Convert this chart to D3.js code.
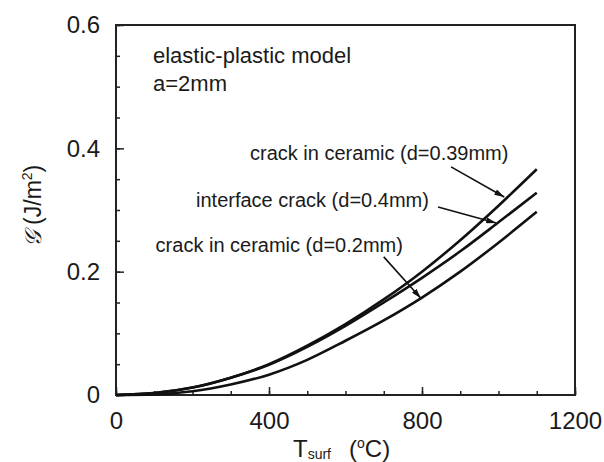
<!DOCTYPE html>
<html>
<head>
<meta charset="utf-8">
<script src="https://cdn.jsdelivr.net/npm/d3@7"></script>
<style>
  body { margin: 0; background: #fff; }
  text { font-family: "Liberation Sans", Arial, sans-serif; fill: #1a1a1a; }
</style>
</head>
<body>
<svg id="chart"></svg>
<script>
let w = 604;
let h = 462;

// surface temperature (C)
let temps = [0, 100, 200, 300, 400, 500, 600, 700, 800, 900, 1000, 1100];
// energy release rate G (J/m2) for each crack
let gCeramic039 = [0, 0.003, 0.012, 0.028, 0.050, 0.080, 0.115, 0.155, 0.200, 0.251, 0.307, 0.366];
let gInterface04 = [0, 0.003, 0.012, 0.028, 0.049, 0.078, 0.112, 0.150, 0.190, 0.233, 0.280, 0.328];
let gCeramic02 = [0, 0.001, 0.006, 0.017, 0.033, 0.057, 0.088, 0.121, 0.158, 0.200, 0.247, 0.297];

let xTicks = [0, 400, 800, 1200];
let yTicks = [0, 0.2, 0.4, 0.6];

let series = [gCeramic039, gInterface04, gCeramic02];

// labels with arrows, given in data units [T, G]
let notes = [
  { text: "crack in ceramic (d=0.39mm)", at: [1026, 0.381], from: [876, 0.370], to: [1015, 0.321] },
  { text: "interface crack (d=0.4mm)", at: [818, 0.305], from: [842, 0.305], to: [994, 0.279] },
  { text: "crack in ceramic (d=0.2mm)", at: [750, 0.232], from: [700, 0.224], to: [797, 0.157] }
];

let svg = d3.select("#chart").attr("width", w).attr("height", h);

let margin = { left: 116, top: 25 },
  width = 459,
  height = 370;

let xScale = d3.scaleLinear().domain([0, 1200]).range([0, width]),
  yScale = d3.scaleLinear().domain([0, 0.6]).range([height, 0]);

let defs = svg.append("defs");
defs.append("marker")
  .attr("id", "arrow")
  .attr("viewBox", "0 0 10 6")
  .attr("refX", 10)
  .attr("refY", 3)
  .attr("markerWidth", 10)
  .attr("markerHeight", 6)
  .attr("markerUnits", "userSpaceOnUse")
  .attr("orient", "auto")
  .append("path")
  .attr("d", "M0,0 L10,3 L0,6 Z")
  .attr("fill", "#111");

let g = svg.append("g").attr("transform", "translate(" + margin.left + "," + margin.top + ")");

// minor ticks
g.append("g")
  .attr("class", "minor")
  .attr("transform", "translate(0," + height + ")")
  .call(d3.axisBottom(xScale).tickValues(d3.range(0, 1201, 100)).tickSize(-4).tickFormat(""));
g.append("g")
  .attr("class", "minor")
  .call(d3.axisLeft(yScale).tickValues(d3.range(0, 0.601, 0.05)).tickSize(-4).tickFormat(""));

// major ticks + labels
g.append("g")
  .attr("class", "xaxis")
  .attr("transform", "translate(0," + height + ")")
  .call(d3.axisBottom(xScale).tickValues(xTicks).tickSize(-8).tickPadding(17).tickFormat(d3.format("d")));
g.append("g")
  .attr("class", "yaxis")
  .call(d3.axisLeft(yScale).tickValues(yTicks).tickSize(-8).tickPadding(16).tickFormat(function (d) {
    return d === 0 ? "0" : d3.format(".1f")(d);
  }));

svg.selectAll(".xaxis text, .yaxis text")
  .style("font-size", "24px")
  .style("font-family", "'Liberation Sans', Arial, sans-serif")
  .attr("fill", "#1a1a1a");
svg.selectAll(".domain").remove();
svg.selectAll(".tick line").attr("stroke", "#222").attr("stroke-width", 1.5);

// frame
g.append("rect")
  .attr("width", width)
  .attr("height", height)
  .attr("fill", "none")
  .attr("stroke", "#222")
  .attr("stroke-width", 2);

// curves
let line = d3.line()
  .x(function (d, i) { return xScale(temps[i]); })
  .y(function (d) { return yScale(d); })
  .curve(d3.curveMonotoneX);

g.selectAll(".curve")
  .data(series)
  .enter()
  .append("path")
  .attr("class", "curve")
  .attr("d", line)
  .attr("fill", "none")
  .attr("stroke", "#111")
  .attr("stroke-width", 2.6);

// annotations
g.selectAll(".note")
  .data(notes)
  .enter()
  .append("text")
  .attr("class", "note")
  .attr("x", function (d) { return xScale(d.at[0]); })
  .attr("y", function (d) { return yScale(d.at[1]); })
  .attr("text-anchor", "end")
  .style("font-size", "20px")
  .text(function (d) { return d.text; });

g.selectAll(".arrow")
  .data(notes)
  .enter()
  .append("line")
  .attr("class", "arrow")
  .attr("x1", function (d) { return xScale(d.from[0]); })
  .attr("y1", function (d) { return yScale(d.from[1]); })
  .attr("x2", function (d) { return xScale(d.to[0]); })
  .attr("y2", function (d) { return yScale(d.to[1]); })
  .attr("stroke", "#111")
  .attr("stroke-width", 1.6)
  .attr("marker-end", "url(#arrow)");

g.append("text")
  .attr("x", 37)
  .attr("y", 38)
  .style("font-size", "22px")
  .text("elastic-plastic model");
g.append("text")
  .attr("x", 37)
  .attr("y", 66)
  .style("font-size", "22px")
  .text("a=2mm");

// axis titles
let xt = svg.append("text")
  .attr("x", 293)
  .attr("y", 457)
  .style("font-size", "24px");
xt.append("tspan").text("T");
xt.append("tspan").attr("dy", 2).style("font-size", "14px").text("surf");
xt.append("tspan").attr("dy", -2).attr("dx", 18).text("(");
xt.append("tspan").attr("dy", -9).style("font-size", "14px").text("o");
xt.append("tspan").attr("dy", 9).text("C)");

let yt = svg.append("text")
  .attr("transform", "translate(41,206) rotate(-90)")
  .attr("text-anchor", "middle")
  .style("font-size", "23px");
yt.append("tspan").style("font-family", "'DejaVu Serif', serif").style("font-style", "italic").text("\u{1D4A2}");
yt.append("tspan").text("  (J/m");
yt.append("tspan").attr("dy", -9).style("font-size", "14px").text("2");
yt.append("tspan").attr("dy", 9).text(")");
</script>
</body>
</html>
